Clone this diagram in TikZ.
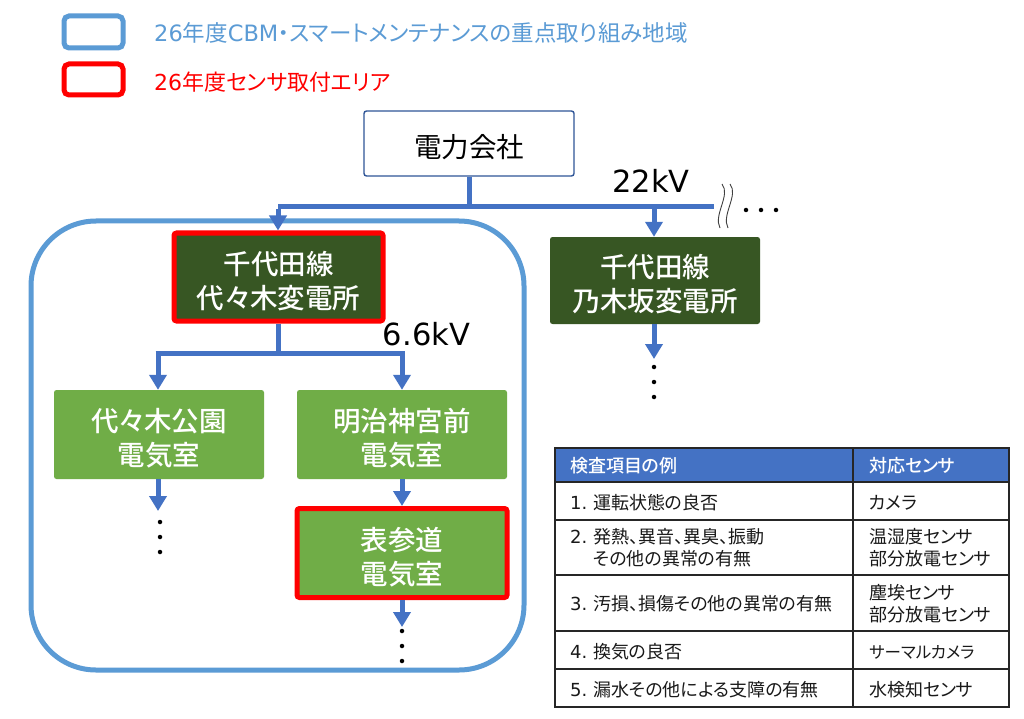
\documentclass[tikz,border=0pt]{standalone}
\usepackage{fontspec}
\setmainfont{Noto Sans CJK JP}[RawFeature=+palt]
\newfontfamily\lat{DejaVu Sans}
\newfontfamily\med{Noto Sans CJK JP Medium}[RawFeature=+palt]
\usetikzlibrary{arrows.meta,calc}
\definecolor{lineblue}{HTML}{4472C4}
\definecolor{areablue}{HTML}{5B9BD5}
\definecolor{darkgreen}{HTML}{375623}
\definecolor{midgreen}{HTML}{70AD47}
\definecolor{navy}{HTML}{2F5597}
\newcommand{\fs}[2]{\fontsize{#1}{#2}\selectfont}
\newcommand{\lift}{\rule{0pt}{31pt}}
\newcommand{\num}[1]{\makebox[23pt][l]{\lat #1}}
\tikzset{
  x=1pt,y=-1pt,
  box/.style={rectangle,rounded corners=2.5pt,minimum width=#1,inner sep=0pt,align=center,text=white},
  stationdark/.style={box=210pt,fill=darkgreen,minimum height=88pt,font=\med\fs{27.5}{34}},
  stationlight/.style={box=210pt,fill=midgreen,minimum height=89pt,font=\med\fs{27.5}{34}},
  redframe/.style={draw=red,line width=5pt},
  bus/.style={draw=lineblue,line width=5pt},
  feed/.style={draw=lineblue,line width=5pt,-{Triangle[length=15pt,width=17pt]}},
  dotmark/.style={circle,fill=black,inner sep=0pt,minimum size=4.5pt},
  squiggle/.style={draw=black!75,line width=.9pt},
  volt/.style={font=\fs{30.5}{34}\lat,inner sep=0pt},
  cellline/.style={draw=black!85,line width=1.8pt},
  celltext/.style={font=\fs{18}{22},anchor=west,inner sep=0pt,align=left,text=black!90},
  headtext/.style={font=\med\fs{18}{22},anchor=west,inner sep=0pt,text=white},
  legendframe/.style={rounded corners=5pt,line width=5pt},
}
\begin{document}
\begin{tikzpicture}
\useasboundingbox (0,0) rectangle (1024,719);
\fill[white] (0,0) rectangle (1024,719);
% legend
\draw[legendframe,draw=areablue] (64,16) rectangle (123,48);
\draw[legendframe,draw=red] (64,64) rectangle (123,95);
\node[anchor=west,inner sep=0pt,text=areablue,font=\fs{22.5}{26}] (legA) at (154,33) {{\lat 26}年度{\lat CBM}・スマートメンテナンスの重点取り組み地域};
\node[anchor=west,inner sep=0pt,text=red,font=\fs{22}{26}] (legB) at (154,82) {{\lat 26}年度センサ取付エリア};
% area
\draw[areablue,line width=5pt,rounded corners=65pt] (31,221) rectangle (524,670);
% nodes
\node[box=210pt,draw=navy,line width=1.4pt,minimum height=65pt,text=black,font=\fs{27.5}{34},fill=white] (power) at (469,143.5) {\lift 電力会社};
\node[stationdark,redframe,minimum width=209pt] (yoyogi) at (278.5,277) {\lift 千代田線\\代々木変電所};
\node[stationdark,minimum height=87pt] (nogi) at (655,280.5) {\lift 千代田線\\乃木坂変電所};
\node[stationlight] (park) at (159,434.5) {\lift 代々木公園\\電気室};
\node[stationlight] (meiji) at (402,434.5) {\lift 明治神宮前\\電気室};
\node[stationlight,redframe,minimum width=210pt,minimum height=89pt] (omote) at (402,553) {\lift 表参道\\電気室};
% trunk
\coordinate (busL) at (278,207);
\coordinate (busT) at (469,207);
\coordinate (busN) at (654,207);
\coordinate (busR) at (714,207);
\draw[bus] (power.south -| busT) -- (busT);
\draw[bus] (busL) -- (busR);
\draw[feed] ([yshift=-2.5pt]busL) -- (yoyogi.north -| busL);
\draw[feed] (busN) -- (nogi.north -| busN);
% branch
\coordinate (brC) at (278,353);
\coordinate (brL) at (158,353);
\coordinate (brR) at (402,353);
\draw[bus] (yoyogi.south -| brC) -- (brC);
\draw[bus] ([xshift=-2.5pt]brL) -- ([xshift=2.5pt]brR);
\draw[feed] (brL) -- (park.north -| brL);
\draw[feed] (brR) -- (meiji.north -| brR);
\draw[feed] (meiji.south -| brR) -- (omote.north -| brR);
% continuation
\coordinate (tailA) at (158,511);
\coordinate (tailB) at (402,627);
\coordinate (tailC) at (654,359);
\draw[feed] (park.south -| tailA) -- (tailA);
\draw[feed] (omote.south -| tailB) -- (tailB);
\draw[feed] (nogi.south -| tailC) -- (tailC);
% dots
\foreach \px/\py in {160/522,160/537,160/552,402/631,402/646,402/661,654/367,654/382,654/397,746/210,761/210,776/210}
  \node[dotmark] at (\px,\py) {};
% break marks
\draw[squiggle] (722,184) .. controls (731,195) and (713,215) .. (720,228);
\draw[squiggle] (730,184) .. controls (739,195) and (721,215) .. (728,228);
% voltages
\node[volt] (kv22) at (651,181) {22kV};
\node[volt] (kv66) at (426.5,334) {6.6kV};
% table
\fill[lineblue] (555,448) rectangle (1009,482);
\draw[cellline] (555,448) rectangle (1009,707);
\foreach \ry in {482,520,575,631,669} \draw[cellline] (555,\ry) -- (1009,\ry);
\draw[cellline] (853,448) -- (853,707);
\node[headtext] (h1) at (570,466) {検査項目の例};
\node[headtext] (h2) at (869,466) {対応センサ};
\node[celltext] (r1) at (570,503) {\num{1.}運転状態の良否};
\node[celltext] (r2) at (570,548) {\num{2.}発熱、異音、異臭、振動\\\hspace{23pt}その他の異常の有無};
\node[celltext] (r3) at (570,604) {\num{3.}汚損、損傷その他の異常の有無};
\node[celltext] (r4) at (570,652) {\num{4.}換気の良否};
\node[celltext] (r5) at (570,690) {\num{5.}漏水その他による支障の有無};
\node[celltext] (s1) at (869,503) {カメラ};
\node[celltext] (s2) at (869,548) {温湿度センサ\\部分放電センサ};
\node[celltext] (s3) at (869,604) {塵埃センサ\\部分放電センサ};
\node[celltext,font=\fs{16.5}{22}] (s4) at (869,652) {サーマルカメラ};
\node[celltext] (s5) at (869,690) {水検知センサ};
\end{tikzpicture}
\end{document}
